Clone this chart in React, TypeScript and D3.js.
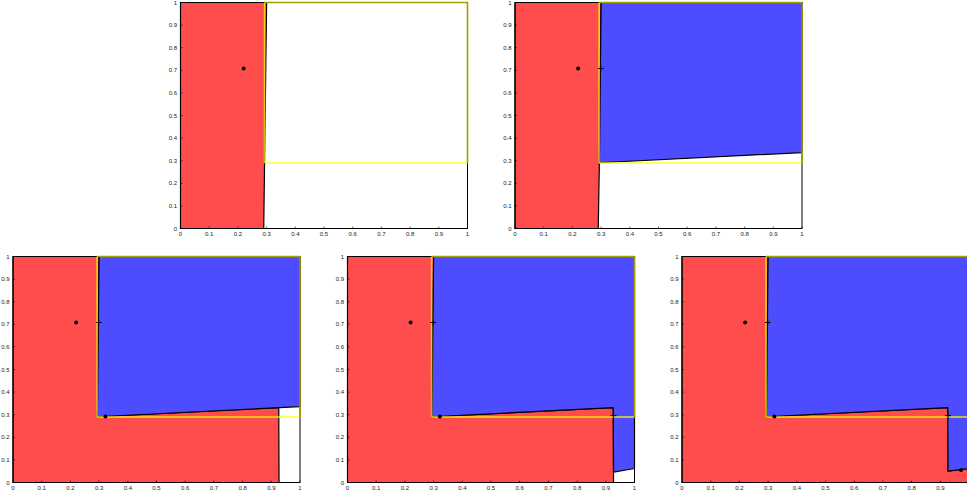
import React from "react";
import * as d3 from "d3";

type Pt = [number, number];

// Cell polygons (unit square coordinates) for each refinement step
const redCell1: Pt[] = [[0, 0], [0, 1], [0.3, 1], [0.29, 0]];
const redCell2: Pt[] = [[0, 0], [0, 1], [0.3, 1], [0.294, 0.291], [0.29, 0]];
const redCell3: Pt[] = [[0, 0], [0, 1], [0.3, 1], [0.294, 0.291], [0.926, 0.331], [0.927, 0]];
const redCell5: Pt[] = [[0, 0], [0, 1], [0.3, 1], [0.294, 0.291], [0.926, 0.331], [0.927, 0.05], [1, 0.062], [1, 0]];

const blueCell2: Pt[] = [[0.3, 1], [1, 1], [1, 0.336], [0.294, 0.291]];
const blueCell4: Pt[] = [[0.3, 1], [1, 1], [1, 0.062], [0.927, 0.046], [0.926, 0.331], [0.294, 0.291]];
const blueCell5: Pt[] = [[0.3, 1], [1, 1], [1, 0.062], [0.927, 0.05], [0.926, 0.331], [0.294, 0.291]];

// Query rectangle [x0, y0, x1, y1]
const queryBox = [0.293, 0.29, 1, 1];

// Sample sites and probe points
const sites: Pt[] = [[0.22, 0.708], [0.322, 0.292], [0.972, 0.055]];
const probes: Pt[] = [[0.299, 0.708], [0.927, 0.296]];

const tickValues = [0, 0.1, 0.2, 0.3, 0.4, 0.5, 0.6, 0.7, 0.8, 0.9, 1];
const tickLabels = ["0", "0.1", "0.2", "0.3", "0.4", "0.5", "0.6", "0.7", "0.8", "0.9", "1"];

// Steps shown in each subplot
const steps = [
  { red: redCell1, blue: null as Pt[] | null, nSites: 1, nProbes: 0 },
  { red: redCell2, blue: blueCell2, nSites: 1, nProbes: 1 },
  { red: redCell3, blue: blueCell2, nSites: 2, nProbes: 1 },
  { red: redCell3, blue: blueCell4, nSites: 2, nProbes: 2 },
  { red: redCell5, blue: blueCell5, nSites: 3, nProbes: 2 },
];

// Subplot placement
const layout = [
  { left: 180.5, top: 2.5 },
  { left: 515, top: 2.5 },
  { left: 13, top: 256.5 },
  { left: 347.5, top: 256.5 },
  { left: 682, top: 256.5 },
];
const W = 287;
const H = 226;

const RED = "#ff4d4d";
const BLUE = "#4d4dff";

function Panel({ idx }: { idx: number }) {
  const step = steps[idx];
  const { left, top } = layout[idx];
  const x = d3.scaleLinear().domain([0, 1]).range([0, W]);
  const y = d3.scaleLinear().domain([0, 1]).range([H, 0]);
  const line = d3
    .line<Pt>()
    .x((d) => x(d[0]))
    .y((d) => y(d[1]))
    .curve(d3.curveLinearClosed);

  const [bx0, by0, bx1, by1] = queryBox;
  const font = { fontFamily: "Liberation Sans, Arial, sans-serif", fontSize: 6, fill: "#222" };

  return (
    <g transform={`translate(${left},${top})`}>
      <path d={line(step.red) || ""} fill={RED} stroke="#000" strokeWidth={1.2} strokeLinejoin="round" />
      {step.blue && (
        <path d={line(step.blue) || ""} fill={BLUE} stroke="#000" strokeWidth={1.2} strokeLinejoin="round" />
      )}
      {/* axes box */}
      <rect x={0} y={0} width={W} height={H} fill="none" stroke="#000" strokeWidth={1} />
      {tickValues.map((t, i) => (
        <g key={`xt${i}`}>
          <line x1={x(t)} x2={x(t)} y1={H} y2={H - 2} stroke="#000" strokeWidth={0.6} />
          <text x={x(t)} y={H + 7} textAnchor="middle" style={font}>
            {tickLabels[i]}
          </text>
        </g>
      ))}
      {tickValues.map((t, i) => (
        <g key={`yt${i}`}>
          <line x1={0} x2={2} y1={y(t)} y2={y(t)} stroke="#000" strokeWidth={0.6} />
          <text x={-3.5} y={y(t)} dy="0.35em" textAnchor="end" style={font}>
            {tickLabels[i]}
          </text>
        </g>
      ))}
      {/* query rectangle: left/bottom edges in yellow, top/right edges blend with the box */}
      <line x1={x(bx0)} x2={x(bx0)} y1={y(by0)} y2={y(by1)} stroke="#ffff00" strokeOpacity={0.7} strokeWidth={1.6} />
      <line x1={x(bx0)} x2={x(bx1)} y1={y(by0)} y2={y(by0)} stroke="#ffff00" strokeOpacity={0.85} strokeWidth={1.6} />
      <line x1={x(bx0)} x2={x(bx1)} y1={y(by1)} y2={y(by1)} stroke="#a3a300" strokeWidth={1.6} />
      <line x1={x(bx1)} x2={x(bx1)} y1={y(by0)} y2={y(by1)} stroke="#a3a300" strokeWidth={1.6} />
      {sites.slice(0, step.nSites).map((p, i) => (
        <circle key={`s${i}`} cx={x(p[0])} cy={y(p[1])} r={2} fill="#000" />
      ))}
      {probes.slice(0, step.nProbes).map((p, i) => (
        <path
          key={`p${i}`}
          d={`M${x(p[0]) - 3},${y(p[1])}H${x(p[0]) + 3}M${x(p[0])},${y(p[1]) - 3}V${y(p[1]) + 3}`}
          stroke="#000"
          strokeWidth={0.9}
        />
      ))}
    </g>
  );
}

export default function App() {
  return (
    <svg
      width={967}
      height={494}
      style={{ position: "absolute", left: 0, top: 0, background: "#fff" }}
    >
      <rect width={967} height={494} fill="#fff" />
      {steps.map((_, i) => (
        <Panel key={i} idx={i} />
      ))}
    </svg>
  );
}
